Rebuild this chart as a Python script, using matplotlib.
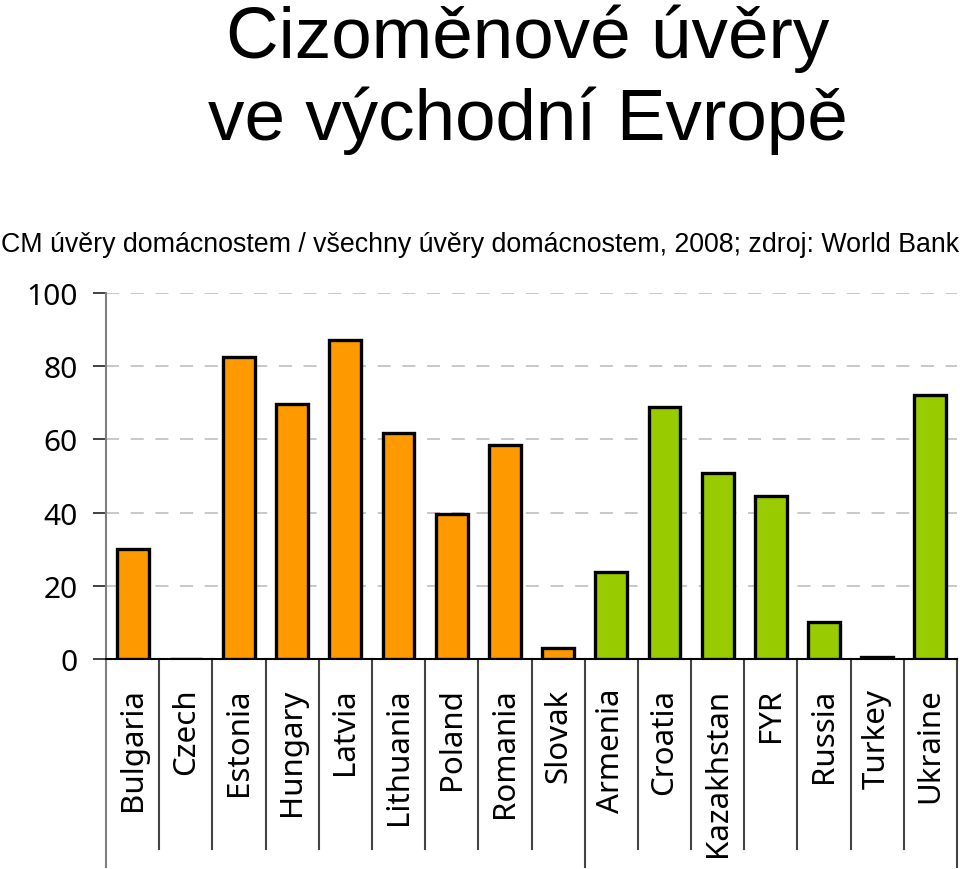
import numpy as np
import matplotlib
matplotlib.use('Agg')
import matplotlib.pyplot as plt
import matplotlib.transforms as mtransforms

# Data (share of FX loans in household loans, 2008)
countries = ['Bulgaria', 'Czech', 'Estonia', 'Hungary', 'Latvia', 'Lithuania',
             'Poland', 'Romania', 'Slovak', 'Armenia', 'Croatia', 'Kazakhstan',
             'FYR', 'Russia', 'Turkey', 'Ukraine']
values = [30.0, 0.0, 82.5, 69.7, 87.2, 61.7, 39.6, 58.5, 3.0,
          23.8, 68.9, 50.8, 44.5, 10.1, 0.5, 72.1]
groups = ['eu'] * 9 + ['non'] * 7
group_colors = {'eu': '#FF9900', 'non': '#99CC00'}
yticks = [0, 20, 40, 60, 80, 100]

title1 = 'Cizoměnové úvěry'
title2 = 've východní Evropě'
subtitle = 'CM úvěry domácnostem / všechny úvěry domácnostem, 2008; zdroj: World Bank'

label_font = 'Noto Sans'

fig = plt.figure(figsize=(9.6, 8.7), dpi=100)
ax = fig.add_axes([106 / 960, 210 / 870, 851 / 960, 366 / 870])

x = np.arange(len(countries))
colors = [group_colors[g] for g in groups]
ax.bar(x, values, width=0.6, color=colors, edgecolor='black', linewidth=2.4,
       zorder=3)

ax.set_xlim(-0.5, len(countries) - 0.5)
ax.set_ylim(0, 100)
ax.set_yticks(yticks)
ax.set_yticklabels([str(v) for v in yticks], fontsize=21.5, family=label_font)
ax.set_xticks([])

# dashed horizontal grid
for v in yticks[1:]:
    ax.axhline(v, color='#c8c8c8', lw=1.4, dashes=(6.7, 6.0), zorder=1)

for s in ['top', 'right']:
    ax.spines[s].set_visible(False)
ax.spines['left'].set_color('#808080')
ax.spines['left'].set_linewidth(1.5)
ax.spines['bottom'].set_color('black')
ax.spines['bottom'].set_linewidth(1.5)
ax.tick_params(axis='y', length=9.5, width=1.3, color='#333333', pad=11)

# category separators below the axis
trans = mtransforms.blended_transform_factory(ax.transData, ax.transAxes)
long_seps = [0, 9, len(countries)]
for i in range(len(countries) + 1):
    bottom = -0.568 if i in long_seps else -0.519
    color = '#808080' if i == 0 else '#444444'
    ax.plot([i - 0.5, i - 0.5], [0, bottom], transform=trans, color=color,
            lw=1.5, clip_on=False)

# rotated category labels
for i, name in enumerate(countries):
    ax.text(i, -0.078, name, transform=trans, rotation=90, ha='center',
            va='top', fontsize=22.5, family=label_font)

# titles
fig.text(0.55, 1 - 58 / 870, title1, ha='center', va='baseline',
         fontsize=52.5, family='Liberation Sans')
fig.text(0.55, 1 - 140 / 870, title2, ha='center', va='baseline',
         fontsize=52.5, family='Liberation Sans')
fig.text(0.5, 1 - 252 / 870, subtitle, ha='center', va='baseline',
         fontsize=19.3, family='Liberation Sans')

fig.savefig('out.png', dpi=100)
